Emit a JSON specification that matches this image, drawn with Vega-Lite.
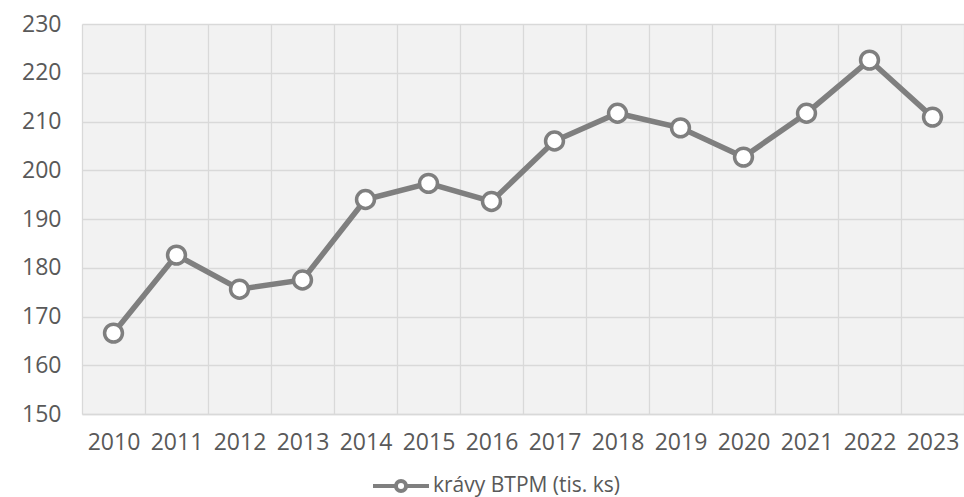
{
  "$schema": "https://vega.github.io/schema/vega-lite/v6.json",
  "width": 882,
  "height": 390,
  "autosize": {"type": "none"},
  "padding": {"left": 82, "top": 24, "right": 0, "bottom": 83},
  "background": "white",
  "config": {"view": {"fill": "#f2f2f2", "stroke": null}, "font": "Open Sans"},
  "data": {"values": [
    {"year": "2010", "value": 166.6, "series": "krávy BTPM (tis. ks)"},
    {"year": "2011", "value": 182.6, "series": "krávy BTPM (tis. ks)"},
    {"year": "2012", "value": 175.6, "series": "krávy BTPM (tis. ks)"},
    {"year": "2013", "value": 177.5, "series": "krávy BTPM (tis. ks)"},
    {"year": "2014", "value": 194.0, "series": "krávy BTPM (tis. ks)"},
    {"year": "2015", "value": 197.3, "series": "krávy BTPM (tis. ks)"},
    {"year": "2016", "value": 193.6, "series": "krávy BTPM (tis. ks)"},
    {"year": "2017", "value": 206.0, "series": "krávy BTPM (tis. ks)"},
    {"year": "2018", "value": 211.7, "series": "krávy BTPM (tis. ks)"},
    {"year": "2019", "value": 208.7, "series": "krávy BTPM (tis. ks)"},
    {"year": "2020", "value": 202.7, "series": "krávy BTPM (tis. ks)"},
    {"year": "2021", "value": 211.7, "series": "krávy BTPM (tis. ks)"},
    {"year": "2022", "value": 222.6, "series": "krávy BTPM (tis. ks)"},
    {"year": "2023", "value": 210.9, "series": "krávy BTPM (tis. ks)"}
  ]},
  "encoding": {
    "x": {
      "field": "year", "type": "nominal", "sort": null,
      "scale": {"paddingInner": 0, "paddingOuter": 0},
      "axis": {
        "title": null, "labelAngle": 0, "tickBand": "extent", "ticks": false,
        "domainColor": "#d9d9d9", "domainWidth": 1.5, "grid": true,
        "gridColor": "#d9d9d9", "gridWidth": 1.3,
        "labelFontSize": 23, "labelColor": "#595959", "labelPadding": 17
      }
    },
    "y": {
      "field": "value", "type": "quantitative",
      "scale": {"domain": [150, 230], "nice": false, "zero": false},
      "axis": {
        "title": null, "values": [150, 160, 170, 180, 190, 200, 210, 220, 230],
        "ticks": false, "domain": false, "grid": true,
        "gridColor": "#d9d9d9", "gridWidth": 1.3,
        "labelFontSize": 23, "labelColor": "#595959", "labelPadding": 21
      }
    }
  },
  "layer": [
    {
      "mark": {"type": "line", "strokeWidth": 5.5},
      "encoding": {
        "color": {
          "field": "series", "type": "nominal",
          "scale": {"range": ["#7f7f7f"]},
          "legend": {
            "title": null, "orient": "none", "legendX": 289, "legendY": 432,
            "padding": 0, "labelFontSize": 21, "labelColor": "#595959", "labelOffset": 2, "labelLimit": 500,
            "encode": {
              "symbols": {
                "update": {
                  "fill": {"value": "white"},
                  "stroke": {"value": "#7f7f7f"},
                  "strokeWidth": {"value": 4},
                  "opacity": {"value": 1},
                  "shape": {"value": "M-1,0L-0.18,0M0.18,0L1,0M0.18,0A0.18,0.18,0,1,1,-0.18,0A0.18,0.18,0,1,1,0.18,0Z"},
                  "size": {"value": 3136}
                }
              }
            }
          }
        }
      }
    },
    {
      "mark": {"type": "point", "shape": "circle", "filled": true, "fill": "white", "stroke": "#7f7f7f", "strokeWidth": 3.5, "size": 320, "opacity": 1}
    }
  ]
}
